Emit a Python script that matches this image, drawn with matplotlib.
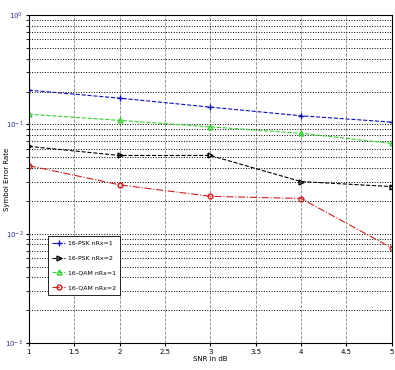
import numpy as np
import matplotlib
matplotlib.use('Agg')
import matplotlib.pyplot as plt
from matplotlib.ticker import LogLocator

# SNR (dB) and symbol error rates
snr = [1, 2, 3, 4, 5]
psk_rx1 = [0.206, 0.174, 0.144, 0.120, 0.105]
psk_rx2 = [0.063, 0.052, 0.052, 0.030, 0.027]
qam_rx1 = [0.124, 0.109, 0.095, 0.083, 0.067]
qam_rx2 = [0.042, 0.028, 0.022, 0.021, 0.0074]
labels = ['16-PSK nRx=1', '16-PSK nRx=2', '16-QAM nRx=1', '16-QAM nRx=2']

fig = plt.figure(figsize=(3.95, 3.70), dpi=100)
ax = fig.add_axes([0.073, 0.073, 0.919, 0.886])

ax.semilogy(snr, psk_rx1, '--+', color='#1010b0', lw=0.8, ms=5, label=labels[0])
ax.semilogy(snr, psk_rx2, '-->', color='black', lw=0.8, ms=3.5, mfc='none', label=labels[1])
ax.semilogy(snr, qam_rx1, '--^', color='#30d030', lw=0.8, ms=3.5, mfc='none', label=labels[2])
ax.semilogy(snr, qam_rx2, '-.o', color='#d02020', lw=0.8, ms=3.5, mfc='none', label=labels[3])

ax.set_xlim(1, 5)
ax.set_ylim(1e-3, 1)
ax.set_xticks([1, 1.5, 2, 2.5, 3, 3.5, 4, 4.5, 5])
ax.set_xticklabels(['1', '1.5', '2', '2.5', '3', '3.5', '4', '4.5', '5'])
ax.yaxis.set_major_locator(LogLocator(base=10, numticks=10))
ax.yaxis.set_minor_locator(LogLocator(base=10, subs=np.arange(2, 10), numticks=20))
ax.tick_params(labelsize=5, length=2, pad=2, colors='black')
ax.tick_params(axis='y', labelcolor='#303080')

ax.grid(True, axis='x', which='major', color='#888888', ls='--', lw=0.6)
ax.grid(True, axis='y', which='both', color='black', ls=':', lw=0.7)

for s in ax.spines.values():
    s.set_linewidth(0.8)

ax.set_xlabel('SNR in dB', fontsize=5, labelpad=1)
ax.set_ylabel('Symbol Error Rate', fontsize=5)
ax.yaxis.set_label_coords(-0.052, 0.5)

leg = ax.legend(loc='upper left', bbox_to_anchor=(0.044, 0.335), fontsize=4.5,
                frameon=True, fancybox=False, edgecolor='black', framealpha=1,
                handlelength=2.0, handletextpad=0.5, borderpad=0.7,
                labelspacing=1.5)
leg.get_frame().set_linewidth(0.6)

plt.savefig('out.png', dpi=100)
